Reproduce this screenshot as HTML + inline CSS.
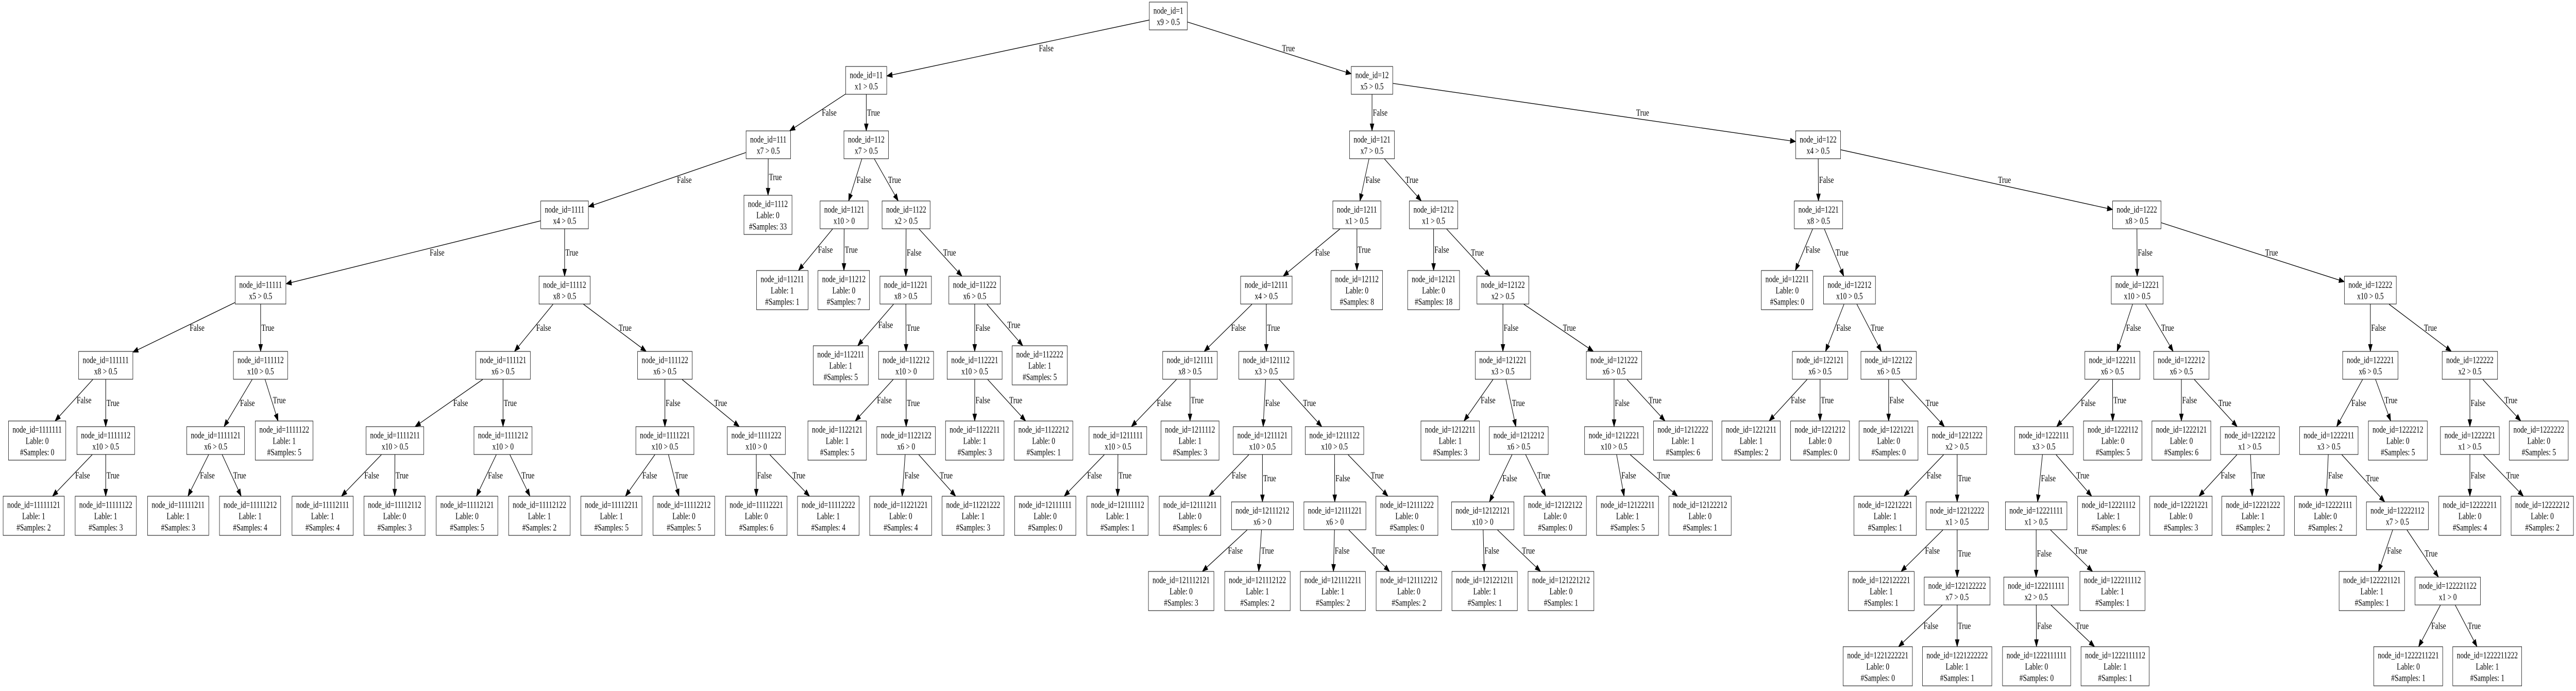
<!DOCTYPE html>
<html><head><meta charset="utf-8">
<style>
html,body{margin:0;padding:0;background:#fff;overflow:hidden;}
#wrap{position:absolute;left:0;top:0;width:6652px;height:1341px;overflow:hidden;background:#fff;transform-origin:0 0;}
#e{position:absolute;left:0;top:0;width:6652px;height:1341px;}
.n{position:absolute;transform:translate(-50%,-50%);border:1.33px solid #000;background:#fff;font:18px/22px "Liberation Serif","Times New Roman",serif;text-align:center;padding:4.5px 10px;white-space:nowrap;color:#000;}
</style></head><body><div id="wrap">
<svg id="e" xmlns="http://www.w3.org/2000/svg" width="6652" height="1341"></svg>
<div class="n" id="n1" style="left:3017px;top:31px">node_id=1<br>x9 &gt; 0.5</div>
<div class="n" id="n11" style="left:2237px;top:156px">node_id=11<br>x1 &gt; 0.5</div>
<div class="n" id="n12" style="left:3543px;top:156px">node_id=12<br>x5 &gt; 0.5</div>
<div class="n" id="n111" style="left:1984px;top:281px">node_id=111<br>x7 &gt; 0.5</div>
<div class="n" id="n112" style="left:2237px;top:281px">node_id=112<br>x7 &gt; 0.5</div>
<div class="n" id="n121" style="left:3543px;top:281px">node_id=121<br>x7 &gt; 0.5</div>
<div class="n" id="n122" style="left:4695px;top:281px">node_id=122<br>x4 &gt; 0.5</div>
<div class="n" id="n1111" style="left:1458px;top:417px">node_id=1111<br>x4 &gt; 0.5</div>
<div class="n" id="n1112" style="left:1983px;top:417px">node_id=1112<br>Lable: 0<br>#Samples: 33</div>
<div class="n" id="n1121" style="left:2180px;top:417px">node_id=1121<br>x10 &gt; 0</div>
<div class="n" id="n1122" style="left:2340px;top:417px">node_id=1122<br>x2 &gt; 0.5</div>
<div class="n" id="n1211" style="left:3504px;top:417px">node_id=1211<br>x1 &gt; 0.5</div>
<div class="n" id="n1212" style="left:3702px;top:417px">node_id=1212<br>x1 &gt; 0.5</div>
<div class="n" id="n1221" style="left:4696px;top:417px">node_id=1221<br>x8 &gt; 0.5</div>
<div class="n" id="n1222" style="left:5518px;top:417px">node_id=1222<br>x8 &gt; 0.5</div>
<div class="n" id="n11111" style="left:673px;top:563px">node_id=11111<br>x5 &gt; 0.5</div>
<div class="n" id="n11112" style="left:1458px;top:563px">node_id=11112<br>x8 &gt; 0.5</div>
<div class="n" id="n11211" style="left:2020px;top:563px">node_id=11211<br>Lable: 1<br>#Samples: 1</div>
<div class="n" id="n11212" style="left:2179px;top:563px">node_id=11212<br>Lable: 0<br>#Samples: 7</div>
<div class="n" id="n11221" style="left:2339px;top:563px">node_id=11221<br>x8 &gt; 0.5</div>
<div class="n" id="n11222" style="left:2517px;top:563px">node_id=11222<br>x6 &gt; 0.5</div>
<div class="n" id="n12111" style="left:3270px;top:563px">node_id=12111<br>x4 &gt; 0.5</div>
<div class="n" id="n12112" style="left:3504px;top:563px">node_id=12112<br>Lable: 0<br>#Samples: 8</div>
<div class="n" id="n12121" style="left:3702px;top:563px">node_id=12121<br>Lable: 0<br>#Samples: 18</div>
<div class="n" id="n12122" style="left:3881px;top:563px">node_id=12122<br>x2 &gt; 0.5</div>
<div class="n" id="n12211" style="left:4615px;top:563px">node_id=12211<br>Lable: 0<br>#Samples: 0</div>
<div class="n" id="n12212" style="left:4776px;top:563px">node_id=12212<br>x10 &gt; 0.5</div>
<div class="n" id="n12221" style="left:5519px;top:563px">node_id=12221<br>x10 &gt; 0.5</div>
<div class="n" id="n12222" style="left:6121px;top:563px">node_id=12222<br>x10 &gt; 0.5</div>
<div class="n" id="n111111" style="left:273px;top:709px">node_id=111111<br>x8 &gt; 0.5</div>
<div class="n" id="n111112" style="left:673px;top:709px">node_id=111112<br>x10 &gt; 0.5</div>
<div class="n" id="n111121" style="left:1299px;top:709px">node_id=111121<br>x6 &gt; 0.5</div>
<div class="n" id="n111122" style="left:1717px;top:709px">node_id=111122<br>x6 &gt; 0.5</div>
<div class="n" id="n112211" style="left:2171px;top:709px">node_id=112211<br>Lable: 1<br>#Samples: 5</div>
<div class="n" id="n112212" style="left:2340px;top:709px">node_id=112212<br>x10 &gt; 0</div>
<div class="n" id="n112221" style="left:2517px;top:709px">node_id=112221<br>x10 &gt; 0.5</div>
<div class="n" id="n112222" style="left:2685px;top:709px">node_id=112222<br>Lable: 1<br>#Samples: 5</div>
<div class="n" id="n121111" style="left:3073px;top:709px">node_id=121111<br>x8 &gt; 0.5</div>
<div class="n" id="n121112" style="left:3270px;top:709px">node_id=121112<br>x3 &gt; 0.5</div>
<div class="n" id="n121221" style="left:3881px;top:709px">node_id=121221<br>x3 &gt; 0.5</div>
<div class="n" id="n121222" style="left:4168px;top:709px">node_id=121222<br>x6 &gt; 0.5</div>
<div class="n" id="n122121" style="left:4700px;top:709px">node_id=122121<br>x6 &gt; 0.5</div>
<div class="n" id="n122122" style="left:4877px;top:709px">node_id=122122<br>x6 &gt; 0.5</div>
<div class="n" id="n122211" style="left:5455px;top:709px">node_id=122211<br>x6 &gt; 0.5</div>
<div class="n" id="n122212" style="left:5633px;top:709px">node_id=122212<br>x6 &gt; 0.5</div>
<div class="n" id="n122221" style="left:6121px;top:709px">node_id=122221<br>x6 &gt; 0.5</div>
<div class="n" id="n122222" style="left:6378px;top:709px">node_id=122222<br>x2 &gt; 0.5</div>
<div class="n" id="n1111111" style="left:96px;top:855px">node_id=1111111<br>Lable: 0<br>#Samples: 0</div>
<div class="n" id="n1111112" style="left:273px;top:855px">node_id=1111112<br>x10 &gt; 0.5</div>
<div class="n" id="n1111121" style="left:557px;top:855px">node_id=1111121<br>x6 &gt; 0.5</div>
<div class="n" id="n1111122" style="left:734px;top:855px">node_id=1111122<br>Lable: 1<br>#Samples: 5</div>
<div class="n" id="n1111211" style="left:1020px;top:855px">node_id=1111211<br>x10 &gt; 0.5</div>
<div class="n" id="n1111212" style="left:1299px;top:855px">node_id=1111212<br>x10 &gt; 0</div>
<div class="n" id="n1111221" style="left:1717px;top:855px">node_id=1111221<br>x10 &gt; 0.5</div>
<div class="n" id="n1111222" style="left:1953px;top:855px">node_id=1111222<br>x10 &gt; 0</div>
<div class="n" id="n1122121" style="left:2162px;top:855px">node_id=1122121<br>Lable: 1<br>#Samples: 5</div>
<div class="n" id="n1122122" style="left:2340px;top:855px">node_id=1122122<br>x6 &gt; 0</div>
<div class="n" id="n1122211" style="left:2517px;top:855px">node_id=1122211<br>Lable: 1<br>#Samples: 3</div>
<div class="n" id="n1122212" style="left:2695px;top:855px">node_id=1122212<br>Lable: 0<br>#Samples: 1</div>
<div class="n" id="n1211111" style="left:2887px;top:855px">node_id=1211111<br>x10 &gt; 0.5</div>
<div class="n" id="n1211112" style="left:3073px;top:855px">node_id=1211112<br>Lable: 1<br>#Samples: 3</div>
<div class="n" id="n1211121" style="left:3260px;top:855px">node_id=1211121<br>x10 &gt; 0.5</div>
<div class="n" id="n1211122" style="left:3446px;top:855px">node_id=1211122<br>x10 &gt; 0.5</div>
<div class="n" id="n1212211" style="left:3745px;top:855px">node_id=1212211<br>Lable: 1<br>#Samples: 3</div>
<div class="n" id="n1212212" style="left:3922px;top:855px">node_id=1212212<br>x6 &gt; 0.5</div>
<div class="n" id="n1212221" style="left:4168px;top:855px">node_id=1212221<br>x10 &gt; 0.5</div>
<div class="n" id="n1212222" style="left:4346px;top:855px">node_id=1212222<br>Lable: 1<br>#Samples: 6</div>
<div class="n" id="n1221211" style="left:4522px;top:855px">node_id=1221211<br>Lable: 1<br>#Samples: 2</div>
<div class="n" id="n1221212" style="left:4700px;top:855px">node_id=1221212<br>Lable: 0<br>#Samples: 0</div>
<div class="n" id="n1221221" style="left:4877px;top:855px">node_id=1221221<br>Lable: 0<br>#Samples: 0</div>
<div class="n" id="n1221222" style="left:5054px;top:855px">node_id=1221222<br>x2 &gt; 0.5</div>
<div class="n" id="n1222111" style="left:5278px;top:855px">node_id=1222111<br>x3 &gt; 0.5</div>
<div class="n" id="n1222112" style="left:5456px;top:855px">node_id=1222112<br>Lable: 0<br>#Samples: 5</div>
<div class="n" id="n1222121" style="left:5633px;top:855px">node_id=1222121<br>Lable: 0<br>#Samples: 6</div>
<div class="n" id="n1222122" style="left:5810px;top:855px">node_id=1222122<br>x1 &gt; 0.5</div>
<div class="n" id="n1222211" style="left:6014px;top:855px">node_id=1222211<br>x3 &gt; 0.5</div>
<div class="n" id="n1222212" style="left:6192px;top:855px">node_id=1222212<br>Lable: 0<br>#Samples: 5</div>
<div class="n" id="n1222221" style="left:6378px;top:855px">node_id=1222221<br>x1 &gt; 0.5</div>
<div class="n" id="n1222222" style="left:6556px;top:855px">node_id=1222222<br>Lable: 0<br>#Samples: 5</div>
<div class="n" id="n11111121" style="left:87px;top:1001px">node_id=11111121<br>Lable: 1<br>#Samples: 2</div>
<div class="n" id="n11111122" style="left:273px;top:1001px">node_id=11111122<br>Lable: 1<br>#Samples: 3</div>
<div class="n" id="n11111211" style="left:460px;top:1001px">node_id=11111211<br>Lable: 1<br>#Samples: 3</div>
<div class="n" id="n11111212" style="left:646px;top:1001px">node_id=11111212<br>Lable: 1<br>#Samples: 4</div>
<div class="n" id="n11112111" style="left:833px;top:1001px">node_id=11112111<br>Lable: 1<br>#Samples: 4</div>
<div class="n" id="n11112112" style="left:1019px;top:1001px">node_id=11112112<br>Lable: 0<br>#Samples: 3</div>
<div class="n" id="n11112121" style="left:1206px;top:1001px">node_id=11112121<br>Lable: 0<br>#Samples: 5</div>
<div class="n" id="n11112122" style="left:1393px;top:1001px">node_id=11112122<br>Lable: 1<br>#Samples: 2</div>
<div class="n" id="n11112211" style="left:1579px;top:1001px">node_id=11112211<br>Lable: 1<br>#Samples: 5</div>
<div class="n" id="n11112212" style="left:1766px;top:1001px">node_id=11112212<br>Lable: 0<br>#Samples: 5</div>
<div class="n" id="n11112221" style="left:1953px;top:1001px">node_id=11112221<br>Lable: 0<br>#Samples: 6</div>
<div class="n" id="n11112222" style="left:2139px;top:1001px">node_id=11112222<br>Lable: 1<br>#Samples: 4</div>
<div class="n" id="n11221221" style="left:2326px;top:1001px">node_id=11221221<br>Lable: 0<br>#Samples: 4</div>
<div class="n" id="n11221222" style="left:2513px;top:1001px">node_id=11221222<br>Lable: 1<br>#Samples: 3</div>
<div class="n" id="n12111111" style="left:2699px;top:1001px">node_id=12111111<br>Lable: 0<br>#Samples: 0</div>
<div class="n" id="n12111112" style="left:2886px;top:1001px">node_id=12111112<br>Lable: 1<br>#Samples: 1</div>
<div class="n" id="n12111211" style="left:3073px;top:1001px">node_id=12111211<br>Lable: 0<br>#Samples: 6</div>
<div class="n" id="n12111212" style="left:3260px;top:1001px">node_id=12111212<br>x6 &gt; 0</div>
<div class="n" id="n12111221" style="left:3447px;top:1001px">node_id=12111221<br>x6 &gt; 0</div>
<div class="n" id="n12111222" style="left:3633px;top:1001px">node_id=12111222<br>Lable: 0<br>#Samples: 0</div>
<div class="n" id="n12122121" style="left:3829px;top:1001px">node_id=12122121<br>x10 &gt; 0</div>
<div class="n" id="n12122122" style="left:4016px;top:1001px">node_id=12122122<br>Lable: 0<br>#Samples: 0</div>
<div class="n" id="n12122211" style="left:4203px;top:1001px">node_id=12122211<br>Lable: 1<br>#Samples: 5</div>
<div class="n" id="n12122212" style="left:4390px;top:1001px">node_id=12122212<br>Lable: 0<br>#Samples: 1</div>
<div class="n" id="n12212221" style="left:4868px;top:1001px">node_id=12212221<br>Lable: 1<br>#Samples: 1</div>
<div class="n" id="n12212222" style="left:5054px;top:1001px">node_id=12212222<br>x1 &gt; 0.5</div>
<div class="n" id="n12221111" style="left:5258px;top:1001px">node_id=12221111<br>x1 &gt; 0.5</div>
<div class="n" id="n12221112" style="left:5445px;top:1001px">node_id=12221112<br>Lable: 1<br>#Samples: 6</div>
<div class="n" id="n12221221" style="left:5632px;top:1001px">node_id=12221221<br>Lable: 0<br>#Samples: 3</div>
<div class="n" id="n12221222" style="left:5818px;top:1001px">node_id=12221222<br>Lable: 1<br>#Samples: 2</div>
<div class="n" id="n12222111" style="left:6005px;top:1001px">node_id=12222111<br>Lable: 0<br>#Samples: 2</div>
<div class="n" id="n12222112" style="left:6191px;top:1001px">node_id=12222112<br>x7 &gt; 0.5</div>
<div class="n" id="n12222211" style="left:6378px;top:1001px">node_id=12222211<br>Lable: 0<br>#Samples: 4</div>
<div class="n" id="n12222212" style="left:6565px;top:1001px">node_id=12222212<br>Lable: 0<br>#Samples: 2</div>
<div class="n" id="n121112121" style="left:3050px;top:1147px">node_id=121112121<br>Lable: 0<br>#Samples: 3</div>
<div class="n" id="n121112122" style="left:3247px;top:1147px">node_id=121112122<br>Lable: 1<br>#Samples: 2</div>
<div class="n" id="n121112211" style="left:3442px;top:1147px">node_id=121112211<br>Lable: 1<br>#Samples: 2</div>
<div class="n" id="n121112212" style="left:3638px;top:1147px">node_id=121112212<br>Lable: 0<br>#Samples: 2</div>
<div class="n" id="n121221211" style="left:3834px;top:1147px">node_id=121221211<br>Lable: 1<br>#Samples: 1</div>
<div class="n" id="n121221212" style="left:4031px;top:1147px">node_id=121221212<br>Lable: 0<br>#Samples: 1</div>
<div class="n" id="n122122221" style="left:4858px;top:1147px">node_id=122122221<br>Lable: 1<br>#Samples: 1</div>
<div class="n" id="n122122222" style="left:5054px;top:1147px">node_id=122122222<br>x7 &gt; 0.5</div>
<div class="n" id="n122211111" style="left:5258px;top:1147px">node_id=122211111<br>x2 &gt; 0.5</div>
<div class="n" id="n122211112" style="left:5455px;top:1147px">node_id=122211112<br>Lable: 1<br>#Samples: 1</div>
<div class="n" id="n122221121" style="left:6125px;top:1147px">node_id=122221121<br>Lable: 1<br>#Samples: 1</div>
<div class="n" id="n122221122" style="left:6321px;top:1147px">node_id=122221122<br>x1 &gt; 0</div>
<div class="n" id="n1221222221" style="left:4849px;top:1293px">node_id=1221222221<br>Lable: 0<br>#Samples: 0</div>
<div class="n" id="n1221222222" style="left:5054px;top:1293px">node_id=1221222222<br>Lable: 1<br>#Samples: 1</div>
<div class="n" id="n1222111111" style="left:5259px;top:1293px">node_id=1222111111<br>Lable: 0<br>#Samples: 0</div>
<div class="n" id="n1222111112" style="left:5462px;top:1293px">node_id=1222111112<br>Lable: 1<br>#Samples: 1</div>
<div class="n" id="n1222211221" style="left:6219px;top:1293px">node_id=1222211221<br>Lable: 0<br>#Samples: 1</div>
<div class="n" id="n1222211222" style="left:6423px;top:1293px">node_id=1222211222<br>Lable: 1<br>#Samples: 1</div>
</div>
<script>
(function(){
var svg=document.getElementById('e');
var W=document.getElementById('wrap');
var wrap=W.getBoundingClientRect();
var nodes=document.querySelectorAll('.n');
var map={};
for(var i=0;i<nodes.length;i++){var n=nodes[i];var r=n.getBoundingClientRect();
map[n.id.slice(1)]={x:r.left-wrap.left+r.width/2,y:r.top-wrap.top+r.height/2,hw:r.width/2,hh:r.height/2};}
function clip(c,dx,dy){var tx=dx!==0?c.hw/Math.abs(dx):1e9,ty=dy!==0?c.hh/Math.abs(dy):1e9;var t=Math.min(tx,ty);return [c.x+dx*t,c.y+dy*t];}
var out="";
for(var id in map){if(id.length<2)continue;var p=map[id.slice(0,-1)];if(!p)continue;var c=map[id];
var dx=c.x-p.x,dy=c.y-p.y;var s=clip(p,dx,dy),e=clip(c,-dx,-dy);
var L=Math.sqrt((e[0]-s[0])*(e[0]-s[0])+(e[1]-s[1])*(e[1]-s[1]));var ux=(e[0]-s[0])/L,uy=(e[1]-s[1])/L;
var al=13,aw=4.8;var bx=e[0]-ux*al,by=e[1]-uy*al;
out+='<line x1="'+s[0]+'" y1="'+s[1]+'" x2="'+bx+'" y2="'+by+'" stroke="#000" stroke-width="1.33"/>';
out+='<polygon points="'+e[0]+','+e[1]+' '+(bx-uy*aw)+','+(by+ux*aw)+' '+(bx+uy*aw)+','+(by-ux*aw)+'" fill="#000" stroke="#000" stroke-width="1.33"/>';
var my=((p.y+p.hh)+(c.y-c.hh))/2;var t=(my-s[1])/(e[1]-s[1]);var lx=s[0]+t*(e[0]-s[0]);
var rr=Math.abs(dx/dy);var off=2+3*rr+0.9*rr*rr;
var lab=id.charAt(id.length-1)==='1'?'False':'True';
out+='<text x="'+(lx+off)+'" y="'+(my+6)+'" font-family="Liberation Serif, Times New Roman, serif" font-size="18">'+lab+'</text>';}
svg.innerHTML=out;
var vw=window.innerWidth||document.documentElement.clientWidth||6652;
var vh=window.innerHeight||document.documentElement.clientHeight||1341;
var sx=vw/6652, sy=vh/1341;
if(!(sx>0))sx=1; if(!(sy>0))sy=1;
if(Math.abs(sx-1)>0.01||Math.abs(sy-1)>0.01){W.style.transform='scale('+sx+','+sy+')';}
})();
</script>
</body></html>
